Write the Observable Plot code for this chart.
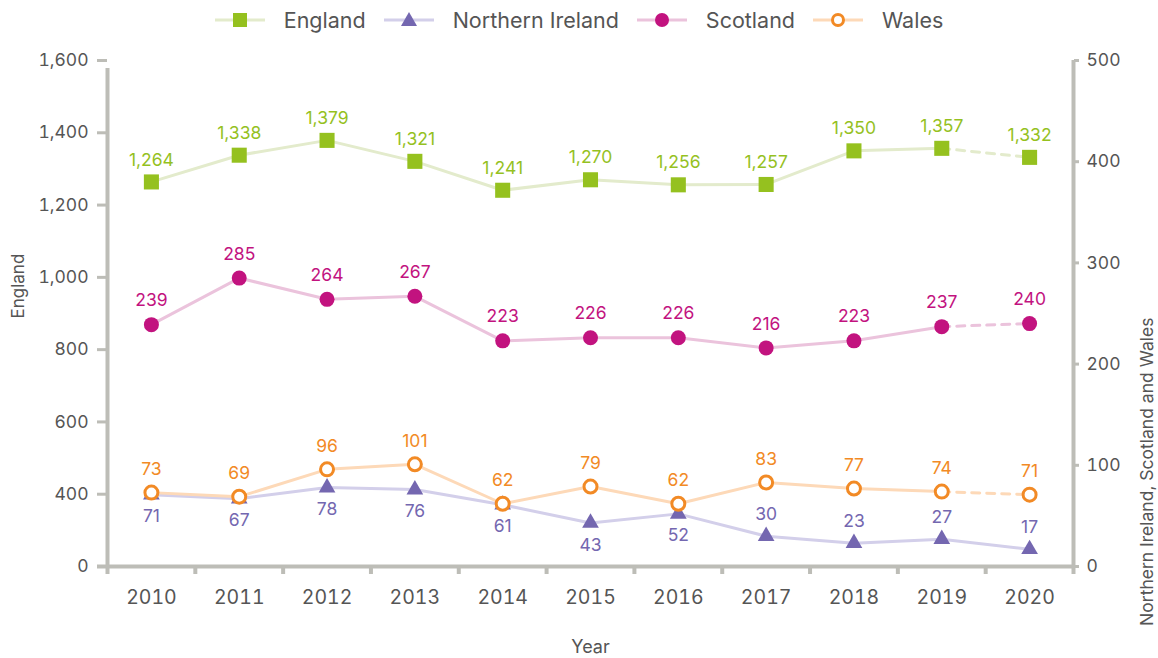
<!DOCTYPE html>
<html><head><meta charset="utf-8">
<script src="https://cdn.jsdelivr.net/npm/d3@7"></script>
<script src="https://cdn.jsdelivr.net/npm/@observablehq/plot@0.6"></script>
<style>
body{margin:0;background:#fff;font-family:Inter,"Noto Sans",sans-serif;}
#legend{height:40px;display:flex;justify-content:center;align-items:center;}
.item{display:flex;align-items:center;margin:0 9px;font-size:21.5px;color:#555;}
.item svg{margin-right:19px;}
</style></head><body>
<div id="legend"></div>
<div id="chart"></div>
<script>
const years = [2010,2011,2012,2013,2014,2015,2016,2017,2018,2019,2020];
const england = [1264,1338,1379,1321,1241,1270,1256,1257,1350,1357,1332];
const northernIreland = [71,67,78,76,61,43,52,30,23,27,17];
const scotland = [239,285,264,267,223,226,226,216,223,237,240];
const wales = [73,69,96,101,62,79,62,83,77,74,71];
const leftTicks = [200,400,600,800,1000,1200,1400,1600];
const leftTickLabels = ["0","400","600","800","1,000","1,200","1,400","1,600"];
const rightTicks = [0,100,200,300,400,500];
// Northern Ireland labels sit below the marker until 2016, above from 2017
const niLabelAboveFrom = 2017;

const series = [
  {name:"England", values:england, axis:"left", marker:"#95c11f", line:"#e3ebcc", symbol:"square", r:8.5, dashedLast:true, dy:() => -22, fill:"#95c11f", stroke:"none", sw:0},
  {name:"Northern Ireland", values:northernIreland, axis:"right", marker:"#7467b0", line:"#d3cfea", symbol:"triangle", r:6.2, dashedLast:false, dy:(yr) => yr >= niLabelAboveFrom ? -22 : 22, fill:"#7467b0", stroke:"none", sw:0},
  {name:"Scotland", values:scotland, axis:"right", marker:"#c2137f", line:"#ebc3dc", symbol:"circle", r:7.5, dashedLast:true, dy:() => -24, fill:"#c2137f", stroke:"none", sw:0},
  {name:"Wales", values:wales, axis:"right", marker:"#f28a25", line:"#fdd9b8", symbol:"circle", r:6.5, dashedLast:true, dy:() => -23, fill:"white", stroke:"#f28a25", sw:3}
];

// right axis (0-500) mapped onto left axis (200-1600, bottom labelled 0)
const toLeft = v => 200 + v * 1400 / 500;
const fromLeft = y => (y - 200) * 500 / 1400;

const rows = [];
for (const s of series) {
  s.values.forEach((v, i) => rows.push({series:s.name, year:years[i], value:v, y: s.axis === "left" ? v : toLeft(v)}));
}

// legend
const legend = document.getElementById("legend");
for (const s of series) {
  const it = document.createElement("div");
  it.className = "item";
  let m;
  if (s.symbol === "square") m = `<rect x="18" y="6" width="14" height="14" fill="${s.marker}"/>`;
  else if (s.symbol === "triangle") m = `<path d="M25,5 L33,19 L17,19 Z" fill="${s.marker}"/>`;
  else m = `<circle cx="25" cy="13" r="${s.sw ? 5.5 : 7}" fill="${s.fill}" stroke="${s.stroke}" stroke-width="${s.sw}"/>`;
  it.innerHTML = `<svg width="50" height="26"><line x1="0" x2="50" y1="13" y2="13" stroke="${s.line}" stroke-width="3"/>${m}</svg><span>${s.name}</span>`;
  legend.appendChild(it);
}

const gray = "#bdbdb7";
const txt = "#555";
const marks = [];
// frame lines
marks.push(Plot.ruleY([200], {x1: 2009.5, x2: 2020.5, stroke: gray, strokeWidth: 4, insetLeft: -10}));
marks.push(Plot.ruleX([2009.5], {y1: 200, y2: 1600, stroke: gray, strokeWidth: 4, insetBottom: -8}));
marks.push(Plot.ruleX([2020.5], {y1: 200, y2: 1600, stroke: gray, strokeWidth: 4}));
// axes
marks.push(Plot.axisY({anchor:"left", ticks: leftTicks, tickFormat: d => leftTickLabels[leftTicks.indexOf(d)], tickSize: 10, tickPadding: 9, stroke: gray, strokeWidth: 3, fontSize: 17.5, color: txt, label: null}));
marks.push(Plot.axisY({anchor:"right", ticks: rightTicks.map(toLeft), tickFormat: d => String(Math.round(fromLeft(d))), tickSize: 5, tickPadding: 8, stroke: gray, strokeWidth: 3, fontSize: 17.5, color: txt, label: null}));
marks.push(Plot.axisX({ticks: d3.range(2009.5, 2021, 1), tickFormat: () => "", tickSize: 8, stroke: gray, strokeWidth: 4, label: null}));
marks.push(Plot.axisX({ticks: years, tickFormat: d => String(d), tickSize: 0, tickPadding: 24, fontSize: 19.5, color: txt, label: null}));
// axis titles
marks.push(Plot.text(["England"], {frameAnchor: "left", dx: -89, dy: 5, rotate: -90, fontSize: 17, fill: txt, text: d => d}));
marks.push(Plot.text(["Northern Ireland, Scotland and Wales"], {frameAnchor: "right", dx: 74, dy: 4, rotate: -90, fontSize: 17.5, fill: txt, text: d => d}));
marks.push(Plot.text(["Year"], {frameAnchor: "bottom", dy: 86, fontSize: 18, fill: txt, text: d => d}));

// lines
for (const s of series) {
  const d = rows.filter(r => r.series === s.name);
  const solid = s.dashedLast ? d.slice(0, d.length - 1) : d;
  marks.push(Plot.line(solid, {x: "year", y: "y", stroke: s.line, strokeWidth: 3}));
  if (s.dashedLast) marks.push(Plot.line(d.slice(d.length - 2), {x: "year", y: "y", stroke: s.line, strokeWidth: 3, strokeDasharray: "8,7"}));
}
// markers and labels
for (const s of series) {
  const d = rows.filter(r => r.series === s.name);
  marks.push(Plot.dot(d, {x: "year", y: "y", symbol: s.symbol, r: s.r, fill: s.fill, stroke: s.stroke, strokeWidth: s.sw}));
  const above = d.filter(r => s.dy(r.year) < 0);
  const below = d.filter(r => s.dy(r.year) >= 0);
  if (above.length) marks.push(Plot.text(above, {x: "year", y: "y", text: r => d3.format(",")(r.value), dy: s.dy(above[0].year), fill: s.marker, fontSize: 17.5}));
  if (below.length) marks.push(Plot.text(below, {x: "year", y: "y", text: r => d3.format(",")(r.value), dy: s.dy(below[0].year), fill: s.marker, fontSize: 17.5}));
}

const chart = Plot.plot({
  width: 1158, height: 618,
  marginLeft: 107, marginRight: 85, marginTop: 20, marginBottom: 92,
  style: {fontFamily: "Inter, 'Noto Sans', sans-serif", background: "white"},
  x: {type: "linear", domain: [2009.5, 2020.5]},
  y: {type: "linear", domain: [200, 1600]},
  marks
});
document.getElementById("chart").appendChild(chart);
</script>
</body></html>
